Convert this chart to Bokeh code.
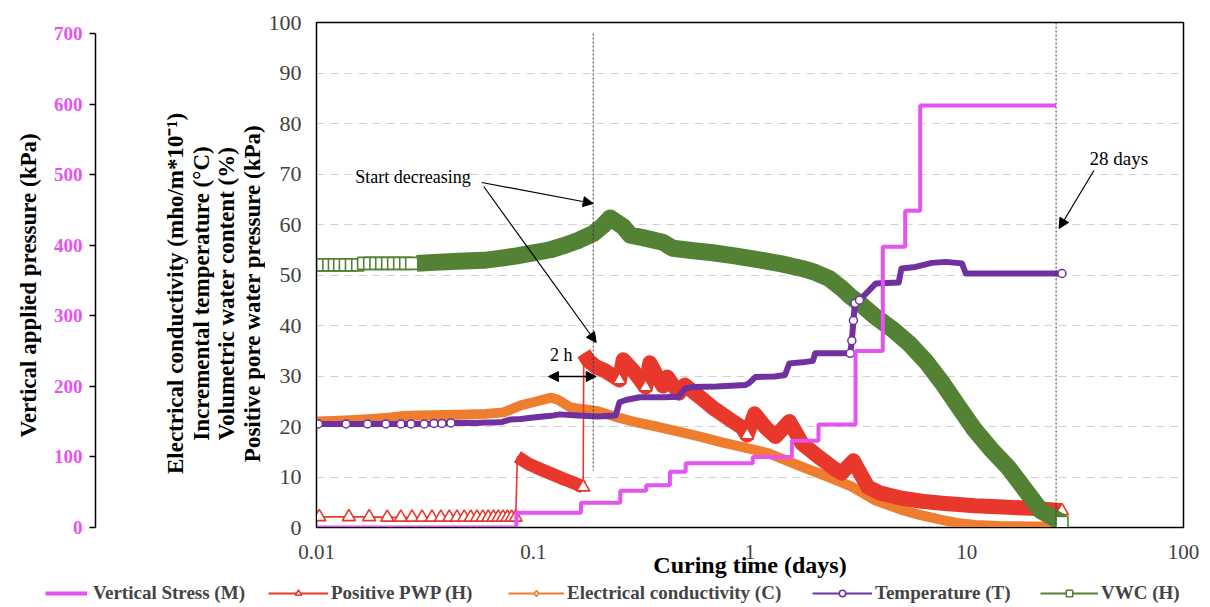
import math
from bokeh.plotting import figure
from bokeh.layouts import row, column
from bokeh.models import (Range1d, FixedTicker, Label, Arrow, NormalHead,
                          Span, Legend, LegendItem)
from bokeh.embed import file_html
from bokeh.resources import INLINE

# ---------------- data ----------------
# Vertical stress (kPa, step series, right-continuous)
stress_t = [0.01, 0.0836, 0.166, 0.252, 0.332, 0.427, 0.505, 1.03, 1.56, 2.07, 3.07, 4.1, 5.2, 6.1, 25.8]
stress_p = [0, 21, 35, 52, 60, 79, 91, 100, 123, 146, 250, 398, 449, 598, 598]

# Positive pore water pressure (kPa)
pwp_t = [0.0103, 0.0141, 0.0175, 0.0212, 0.0245, 0.0276, 0.0307, 0.0341, 0.0375, 0.041, 0.0445,
         0.048, 0.0515, 0.055, 0.0585, 0.062, 0.0655, 0.069, 0.0725, 0.076, 0.0795, 0.083,
         0.0845, 0.095, 0.11, 0.125, 0.14, 0.155, 0.17,
         0.171, 0.18, 0.195, 0.215, 0.25, 0.26, 0.29, 0.33, 0.345, 0.37, 0.397, 0.415, 0.445,
         0.47, 0.50, 0.60, 0.67, 0.80, 0.92, 0.97, 1.05, 1.18, 1.31, 1.52, 1.74, 2.1, 2.46,
         2.65, 3.0, 3.5, 4.0, 5.0, 6.2, 7.7, 10.9, 15.6, 20.0, 27.5]
pwp_v = [2.1, 2.1, 2.1, 2.0, 2.0, 2.0, 2.0, 2.0, 2.0, 2.0, 2.0,
         2.0, 2.0, 2.0, 2.0, 2.0, 2.0, 2.0, 2.0, 2.0, 2.0, 2.0,
         14.0, 12.6, 11.4, 10.4, 9.5, 8.8, 8.0,
         34.5, 33.0, 31.8, 31.0, 29.2, 33.2, 31.0, 27.8, 32.6, 30.2, 28.0, 29.8, 28.0,
         26.6, 28.2, 25.5, 23.8, 21.5, 19.8, 18.3, 22.5, 19.8, 18.0, 21.0, 16.6, 13.8, 11.6,
         10.8, 13.2, 8.0, 6.8, 5.8, 5.2, 4.8, 4.3, 4.0, 3.8, 3.3]

# Electrical conductivity (mho/m*10^-1)
ec_t = [0.01, 0.012, 0.015, 0.018, 0.022, 0.0253, 0.03, 0.04, 0.05, 0.06, 0.073, 0.08, 0.0875,
        0.1, 0.121, 0.13, 0.148, 0.17, 0.195, 0.25, 0.3, 0.38, 0.48, 0.6, 0.75, 0.95, 1.22,
        1.74, 2.3, 2.95, 3.77, 5.0, 6.2, 7.66, 9.0, 10.9, 14.0, 20.0, 27.5]
ec_v = [21.0, 21.1, 21.3, 21.5, 21.8, 22.1, 22.2, 22.3, 22.4, 22.5, 22.8, 23.5, 24.2,
        24.8, 25.7, 25.3, 23.8, 23.4, 23.1, 21.7, 20.8, 19.9, 18.9, 17.9, 16.8, 15.8, 14.7,
        12.0, 10.0, 8.1, 5.4, 3.5, 2.4, 1.5, 0.9, 0.5, 0.3, 0.2, 0.2]

# Incremental temperature (deg C)
temp_t = [0.0102, 0.0137, 0.0172, 0.0209, 0.0245, 0.0273, 0.0314, 0.0348, 0.0379, 0.0417,
          0.046, 0.05, 0.055, 0.06, 0.066, 0.072, 0.0786, 0.0875, 0.1, 0.124, 0.133, 0.16,
          0.2, 0.24, 0.25, 0.27, 0.31, 0.4, 0.47, 0.50, 0.54, 0.7, 0.95, 0.99, 1.06, 1.3,
          1.45, 1.52, 1.75, 1.95, 2.0, 2.5, 2.9, 2.95, 3.0, 3.05, 3.2, 3.8, 4.3, 4.85, 5.0,
          5.8, 6.9, 8.0, 9.5, 9.9, 15.0, 20.0, 27.5]
temp_v = [20.5, 20.5, 20.5, 20.5, 20.5, 20.5, 20.5, 20.6, 20.6, 20.7,
          20.7, 20.7, 20.7, 20.8, 20.8, 20.9, 21.4, 21.5, 21.8, 22.2, 22.4, 22.2,
          22.0, 22.2, 24.8, 25.3, 25.8, 25.8, 25.9, 27.5, 27.8, 27.9, 28.2, 28.6, 29.8, 29.9,
          30.2, 32.5, 32.7, 33.0, 34.5, 34.5, 34.5, 37.0, 41.0, 44.4, 45.0, 48.3, 48.4, 48.5, 51.3,
          51.6, 52.4, 52.6, 52.3, 50.3, 50.3, 50.3, 50.3]

# Volumetric water content (%)
vwc_t = [0.0100, 0.0107, 0.0114, 0.0121, 0.0128, 0.0136, 0.0145, 0.0155, 0.0165, 0.0176,
         0.0188, 0.0200, 0.0213, 0.0227, 0.0242, 0.0258, 0.0275, 0.029,
         0.035, 0.045, 0.059, 0.07, 0.084, 0.1, 0.12, 0.138, 0.16, 0.189, 0.21, 0.226, 0.26,
         0.28, 0.32, 0.396, 0.44, 0.55, 0.673, 0.85, 1.14, 1.4, 1.74, 2.0, 2.32, 2.66, 2.9,
         3.29, 3.77, 4.5, 5.4, 6.5, 7.66, 9.0, 10.9, 13.0, 15.6, 18.5, 22.0, 27.5]
vwc_v = [52.0, 52.0, 52.0, 52.0, 52.0, 52.0, 52.0, 52.0, 52.3, 52.3,
         52.3, 52.3, 52.3, 52.3, 52.3, 52.3, 52.3, 52.3,
         52.5, 52.7, 52.9, 53.3, 53.8, 54.4, 55.0, 55.8, 56.8, 58.2, 59.8, 61.3, 59.6,
         57.9, 57.4, 56.5, 55.3, 54.8, 54.4, 53.8, 52.9, 52.2, 51.3, 50.5, 49.3, 47.3, 45.8,
         44.0, 41.8, 39.4, 36.5, 32.8, 28.8, 24.4, 19.3, 15.4, 11.8, 7.6, 3.3, 1.0]

x_ticks = [0.01, 0.1, 1, 10, 100]
x_tick_labels = ["0.01", "0.1", "1", "10", "100"]
y_ticks = [0, 10, 20, 30, 40, 50, 60, 70, 80, 90, 100]
p_ticks = [0, 100, 200, 300, 400, 500, 600, 700]

series_names = ["Vertical Stress (M)", "Positive PWP (H)", "Electrical conductivity (C)",
                "Temperature (T)", "VWC (H)"]

# ---------------- styling / layout ----------------
MAG = "#E653F2"
RED = "#E8372B"
ORANGE = "#EE7D2F"
PURPLE = "#7030A0"
GREEN = "#548235"
SERIF = "Liberation Serif"
TICKC = "#404040"

W, H = 1210, 607
HT = 580                      # height of the upper row
FL, FR, FT, FB = 312, 1183, 22, 527
WA = 48                       # far-left title strip
PAX = 95                      # pressure axis line x
MAIN_L = 265                  # left edge of the main figure
P_TOP = 700 * (FB - FT) / (FB - 33)
NAN = float("nan")


def tx(px):
    return 10 ** ((px - FL) / ((FR - FL) / 4.0) - 2)


def ty(py):
    return (FB - py) / ((FB - FT) / 100.0)


def tp(py):
    return (FB - py) * P_TOP / (FB - FT)


# ---- far-left strip: "Vertical applied pressure" title ----
fa = figure(width=WA, height=HT, x_range=Range1d(0, WA), y_range=Range1d(HT, 0),
            output_backend="svg", toolbar_location=None, min_border=0,
            x_axis_location=None, y_axis_location=None, outline_line_color=None,
            border_fill_color="white", background_fill_color="white")
fa.grid.visible = False
fa.add_layout(Label(x=28, y=302, text="Vertical applied pressure (kPa)", text_font=SERIF,
                    text_font_style="bold", text_font_size="23px", text_align="center",
                    text_color="black", text_baseline="middle", angle=math.pi / 2))

# ---- pressure axis strip ----
fb = figure(width=MAIN_L - WA, height=HT, x_range=Range1d(PAX, MAIN_L),
            y_range=Range1d(0, P_TOP), output_backend="svg", toolbar_location=None,
            min_border_left=PAX - WA, min_border_right=0, min_border_top=FT,
            min_border_bottom=HT - FB, x_axis_location=None, outline_line_color=None,
            border_fill_color="white", background_fill_color="white")
fb.grid.visible = False
pa = fb.yaxis[0]
pa.ticker = FixedTicker(ticks=p_ticks)
pa.bounds = (0, 700)
pa.major_label_text_font = SERIF
pa.major_label_text_font_style = "bold"
pa.major_label_text_font_size = "19px"
pa.major_label_text_color = MAG
pa.major_tick_out = 6
pa.major_tick_in = 0
pa.minor_tick_line_color = None
pa.axis_line_width = 1.5
pa.major_tick_line_width = 1.5
pa.major_label_standoff = 7
ylines = ["Electrical conductivity (mho/m*10\u207b\u00b9)", "Incremental temperature (\u00b0C)",
          "Volumetric water content (%)", "Positive pore water pressure (kPa)"]
for k, txt in enumerate(ylines):
    fb.add_layout(Label(x=175 + 25.5 * k, y=tp(293), text=txt, text_font=SERIF,
                        text_font_style="bold", text_font_size="23px", text_align="center",
                        text_color="black", text_baseline="middle", angle=math.pi / 2))

# ---- main figure ----
p = figure(width=W - MAIN_L, height=HT, x_axis_type="log", x_range=Range1d(0.01, 100),
           y_range=Range1d(0, 100), output_backend="svg", toolbar_location=None,
           min_border_left=FL - MAIN_L, min_border_right=W - FR, min_border_top=FT,
           min_border_bottom=HT - FB, background_fill_color="white",
           border_fill_color="white", outline_line_color="black", outline_line_width=1.5)
p.extra_y_ranges = {"pressure": Range1d(0, P_TOP)}

xa = p.xaxis[0]
xa.ticker = FixedTicker(ticks=x_ticks)
xa.major_label_overrides = {t: l for t, l in zip(x_ticks, x_tick_labels)}
xa.major_label_text_font = SERIF
xa.major_label_text_font_size = "21px"
xa.major_label_text_color = TICKC
xa.major_tick_line_color = None
xa.minor_tick_line_color = None
xa.axis_line_color = "black"
xa.major_label_standoff = 11
xa.axis_label = "Curing time (days)"
xa.axis_label_text_font = SERIF
xa.axis_label_text_font_style = "bold"
xa.axis_label_text_font_size = "24px"
xa.axis_label_text_color = "black"
xa.axis_label_standoff = -10

ya = p.yaxis[0]
ya.ticker = FixedTicker(ticks=y_ticks)
ya.major_label_text_font = SERIF
ya.major_label_text_font_size = "22px"
ya.major_label_text_color = TICKC
ya.major_tick_line_color = None
ya.minor_tick_line_color = None
ya.axis_line_color = "black"
ya.major_label_standoff = 9

p.xgrid.visible = False
p.ygrid.ticker = FixedTicker(ticks=y_ticks[1:-1])
p.ygrid.grid_line_color = "#d0d0d0"
p.ygrid.grid_line_dash = "8 6"
p.ygrid.grid_line_width = 1

# series
p.line(ec_t, ec_v, line_width=10, color=ORANGE, line_join="round", line_cap="round")
p.scatter(ec_t[:1], ec_v[:1], marker="diamond", size=9, fill_color="white",
          line_color=ORANGE, line_width=1.5)

i_a0 = 22
i_b0 = 29
p.line(pwp_t, pwp_v, line_width=1.6, color=RED)
p.line(pwp_t[i_a0:i_b0], pwp_v[i_a0:i_b0], line_width=13, color=RED, line_join="round")
p.line(pwp_t[i_b0:], pwp_v[i_b0:], line_width=15, color=RED, line_join="round")
mark_t = {0.17, 0.25, 0.33, 0.97, 27.5}
pm = [(t, v) for t, v in zip(pwp_t, pwp_v) if t < 0.084 or t in mark_t]
p.scatter([a for a, b in pm], [b for a, b in pm], marker="triangle", size=13,
          fill_color="white", line_color=RED, line_width=1.6)

i_g0 = 17
p.line(vwc_t, vwc_v, line_width=1.6, color=GREEN)
p.line(vwc_t[i_g0:], vwc_v[i_g0:], line_width=17, color=GREEN, line_join="round")
p.scatter(vwc_t[:i_g0] + vwc_t[-1:], vwc_v[:i_g0] + vwc_v[-1:], marker="square",
          size=12, fill_color="white", line_color=GREEN, line_width=1.6)

p.line(temp_t, temp_v, line_width=6, color=PURPLE, line_join="round")
tm_idx = list(range(0, 10)) + [42, 43, 44, 45, 46, len(temp_t) - 1]
p.scatter([temp_t[i] for i in tm_idx], [temp_v[i] for i in tm_idx], marker="circle",
          size=8, fill_color="white", line_color=PURPLE, line_width=1.5)

p.step(stress_t, stress_p, mode="after", line_width=4, color=MAG, y_range_name="pressure")

# annotations
p.segment(x0=[tx(590)], y0=[ty(33)], x1=[tx(590)], y1=[ty(470)], line_color="#333333",
          line_width=1, line_dash="2 2")
p.add_layout(Span(location=tx(1055), dimension="height", line_color="#333333",
                  line_width=1, line_dash="2 2"))


def head():
    return NormalHead(size=10, fill_color="black", line_color="black")


p.add_layout(Label(x=tx(351), y=ty(176), text="Start decreasing", text_font=SERIF,
                   text_font_size="18px", text_color="black", text_baseline="middle",
                   text_align="left"))
p.add_layout(Arrow(end=head(), x_start=tx(478), y_start=ty(182), x_end=tx(590), y_end=ty(203),
                   line_width=1.2))
p.add_layout(Arrow(end=head(), x_start=tx(480), y_start=ty(186), x_end=tx(593), y_end=ty(342),
                   line_width=1.2))
p.add_layout(Label(x=tx(558), y=ty(354), text="2 h", text_font=SERIF, text_font_size="18px",
                   text_color="black", text_baseline="middle", text_align="center"))
p.add_layout(Arrow(start=head(), end=head(), x_start=tx(545), y_start=ty(376), x_end=tx(593),
                   y_end=ty(376), line_width=1.5))
p.add_layout(Label(x=tx(1118), y=ty(158), text="28 days", text_font=SERIF,
                   text_font_size="19px", text_color="black", text_baseline="middle",
                   text_align="center"))
p.add_layout(Arrow(end=head(), x_start=tx(1093), y_start=ty(170), x_end=tx(1058), y_end=ty(228),
                   line_width=1.2))

# ---- legend strip ----
fl = figure(width=W, height=H - HT, x_range=Range1d(0, W), y_range=Range1d(0, H - HT),
            output_backend="svg", toolbar_location=None, min_border=0,
            x_axis_location=None, y_axis_location=None, outline_line_color=None,
            border_fill_color="white", background_fill_color="white")
fl.grid.visible = False
e = [NAN]   # legend-key placeholders: nothing is drawn in the strip itself
lg = [
    [fl.line(e, e, line_width=4, color=MAG)],
    [fl.line(e, e, line_width=2, color=RED),
     fl.scatter(e, e, marker="triangle", size=8, fill_color="white", line_color=RED, line_width=1.5)],
    [fl.line(e, e, line_width=2, color=ORANGE),
     fl.scatter(e, e, marker="diamond", size=9, fill_color="white", line_color=ORANGE, line_width=1.5)],
    [fl.line(e, e, line_width=2, color=PURPLE),
     fl.scatter(e, e, marker="circle", size=7, fill_color="white", line_color=PURPLE, line_width=1.5)],
    [fl.line(e, e, line_width=2, color=GREEN),
     fl.scatter(e, e, marker="square", size=7, fill_color="white", line_color=GREEN, line_width=1.5)],
]
leg_x = [45, 268, 508, 812, 1040]
leg_gw = [42, 60, 56, 60, 58]
leg_so = [6, 3, 3, 3, 3]
for name, rs, lx, gw, so in zip(series_names, lg, leg_x, leg_gw, leg_so):
    fl.add_layout(Legend(items=[LegendItem(label=name, renderers=rs)], location=(lx, 3),
                         label_text_font=SERIF, label_text_font_style="bold",
                         label_text_font_size="19px", glyph_width=gw, glyph_height=16,
                         label_standoff=so, padding=0, margin=0, border_line_color=None,
                         background_fill_alpha=0))

layout = column(row(fa, fb, p), fl)
open("out.html", "w").write(file_html(layout, INLINE))
